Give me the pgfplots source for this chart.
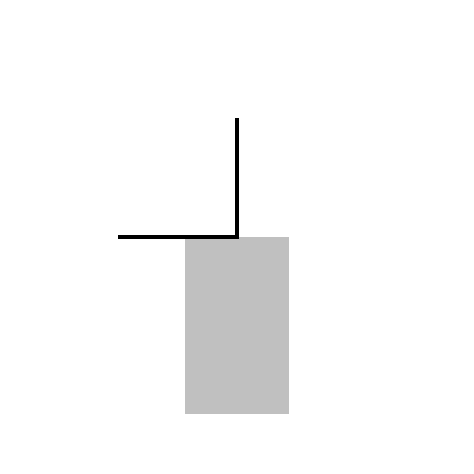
\documentclass[border=0pt]{standalone}
\usepackage{pgfplots}
\pgfplotsset{compat=1.18}
\definecolor{boxgray}{HTML}{C0C0C0}
\begin{document}
\begin{tikzpicture}
\begin{axis}[width=10cm, height=10cm, scale only axis,
             xmin=0, xmax=474, ymin=0, ymax=474,
             hide axis, clip=false]
\path[use as bounding box] (rel axis cs:0,0) rectangle (rel axis cs:1,1);
% grey box
\addplot[fill=boxgray, draw=none] coordinates {
    (185,60) (289,60) (289,237) (185,237)
} -- cycle;
% black stroke
\addplot[black, line width=2pt, line join=miter, mark=none] coordinates {
    (118,237) (237,237) (237,356)
};
\end{axis}
\end{tikzpicture}
\end{document}
